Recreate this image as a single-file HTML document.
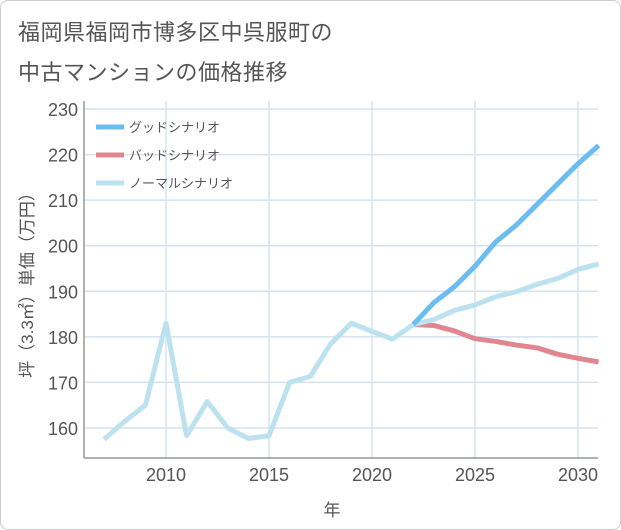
<!DOCTYPE html>
<html><head><meta charset="utf-8"><style>
body{margin:0;background:#fff;font-family:"Liberation Sans","Noto Sans CJK JP",sans-serif}
#wrap{position:relative;width:619px;height:528px;border:1px solid #ccc;border-radius:8px;overflow:hidden;background:#fff}
.t{position:absolute;left:17px;font-size:22px;color:#555;letter-spacing:0.5px}
</style></head><body>
<div id="wrap">
<div class="t" style="top:14px">福岡県福岡市博多区中呉服町の</div>
<div class="t" style="top:54px">中古マンションの価格推移</div>
<svg id="c" width="621" height="530" style="position:absolute;left:0;top:0"></svg>
</div>
<script>
const years=[2007,2008,2009,2010,2011,2012,2013,2014,2015,2016,2017,2018,2019,2020,2021,2022];
const hist=[157.5,161.5,165,183,158.3,165.8,160,157.7,158.3,170,171.3,178.5,183,181.2,179.5,182.7];
const fYears=[2022,2023,2024,2025,2026,2027,2028,2029,2030,2031];
const good=[182.7,187.5,191,195.5,200.8,204.5,209,213.5,218,222];
const bad=[182.7,182.5,181.3,179.6,179,178.2,177.6,176.2,175.3,174.5];
const normal=[182.7,183.8,185.8,187,188.8,189.9,191.5,192.8,194.8,196];
const yTicks=[160,170,180,190,200,210,220,230];
const xTicks=[2010,2015,2020,2025,2030];
const legendLabels=["グッドシナリオ","バッドシナリオ","ノーマルシナリオ"];
const legendColors=["#6bbcf0","#e0868f","#bde2ef"];
const NS="http://www.w3.org/2000/svg";
const svg=document.getElementById('c');
const L=83,R=597,T=100,B=457;
const x=v=>165+(v-2010)*20.6;
const y=v=>427-(v-160)*4.557;
function el(t,a){const e=document.createElementNS(NS,t);for(const k in a)e.setAttribute(k,a[k]);svg.appendChild(e);return e;}
yTicks.forEach(v=>{
 const g=el('line',{x1:L,x2:R,y1:y(v),y2:y(v),stroke:'#d5e3ee','stroke-width':1.5});
 
 
 const t=el('text',{x:77,y:y(v)+7,'text-anchor':'end','font-size':18,fill:'#555'});t.textContent=v;
 
 
});
xTicks.forEach(v=>{
 const g=el('line',{x1:x(v),x2:x(v),y1:T,y2:B,stroke:'#d5e3ee','stroke-width':1.5});
 
 
 const t=el('text',{x:x(v),y:480,'text-anchor':'middle','font-size':18,fill:'#555'});t.textContent=v;
 
 
});
const ax=el('line',{x1:L,x2:L,y1:T,y2:B,stroke:'#999','stroke-width':1.5});


const ax2=el('line',{x1:L,x2:R,y1:B,y2:B,stroke:'#999','stroke-width':1.5});


function line(xs,ys,c,name){
 const p=el('polyline',{points:xs.map((v,i)=>x(v)+','+y(ys[i])).join(' '),fill:'none',stroke:c,'stroke-width':5,'stroke-linejoin':'round'});
 
 
}
line(fYears,bad,legendColors[1],'bad-scenario-line');
line(fYears,normal,legendColors[2],'normal-scenario-line');
line(fYears,good,legendColors[0],'good-scenario-line');
line(years,hist,legendColors[2],'history-line');
legendLabels.forEach((s,i)=>{
 const yy=126+i*28;
 const l=el('line',{x1:95,x2:123,y1:yy,y2:yy,stroke:legendColors[i],'stroke-width':5});
 
 
 const t=el('text',{x:128,y:yy+5,'font-size':13,fill:'#555'});t.textContent=s;
 
 
});
const xl=el('text',{x:331,y:515,'text-anchor':'middle','font-size':17,fill:'#555'});xl.textContent='年';


const yl=el('text',{x:0,y:0,'text-anchor':'middle','font-size':17,fill:'#555',transform:'translate(32,280) rotate(-90)'});yl.textContent='坪（3.3㎡）単価（万円）';


</script>
</body></html>
